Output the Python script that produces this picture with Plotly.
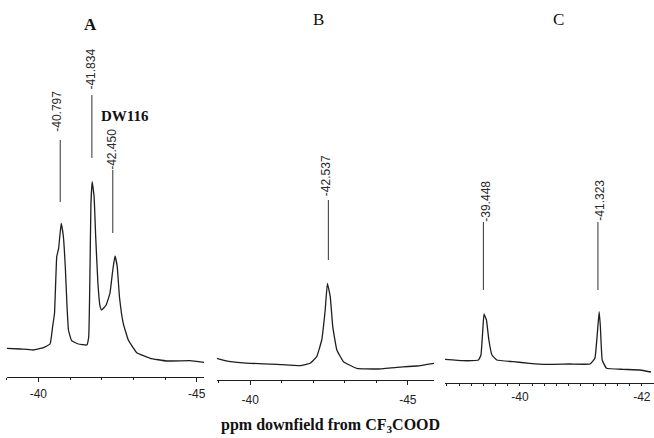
import plotly.graph_objects as go

# ---------------- data ----------------
# Spectrum A (ppm, relative intensity)
a_ppm = [-39.00, -39.42, -39.84, -40.16, -40.37, -40.45, -40.51, -40.58, -40.64, -40.72,
         -40.79, -40.85, -40.90, -40.95, -41.05, -41.26, -41.53, -41.59, -41.63, -41.66,
         -41.70, -41.76, -41.81, -41.88, -41.95, -42.00, -42.14, -42.26, -42.35, -42.42,
         -42.49, -42.56, -42.68, -42.84, -43.11, -43.53, -44.05, -44.79, -45.23]
a_int = [28.4, 27.7, 26.7, 29.0, 32.7, 50.0, 63.4, 120.0, 128.4, 153.4,
         140.0, 110.0, 73.4, 46.7, 36.0, 32.7, 31.7, 40.0, 106.7, 173.4,
         195.0, 180.0, 140.0, 93.4, 70.0, 66.7, 71.7, 83.4, 106.7, 120.7,
         110.0, 80.0, 53.4, 36.7, 24.0, 18.4, 15.7, 16.0, 14.4]

# Spectrum B
b_ppm = [-38.94, -39.37, -40.00, -40.85, -41.59, -41.90, -42.11, -42.27, -42.38, -42.45,
         -42.54, -42.62, -42.75, -42.96, -43.38, -44.02, -44.65, -45.29, -45.83]
b_int = [21.7, 18.3, 16.7, 15.7, 14.3, 16.7, 23.3, 40.0, 70.0, 96.7,
         83.3, 53.3, 30.0, 18.3, 11.7, 11.0, 12.7, 14.0, 16.7]

# Spectrum C
c_ppm = [-38.77, -39.07, -39.32, -39.36, -39.39, -39.41, -39.45, -39.49, -39.54, -39.62,
         -39.89, -40.16, -40.44, -40.82, -41.15, -41.23, -41.27, -41.30, -41.32, -41.35,
         -41.42, -41.69, -41.97, -42.15]
c_int = [23.7, 22.3, 23.0, 28.0, 53.0, 69.0, 63.0, 43.0, 28.0, 23.0,
         21.3, 19.7, 18.7, 19.0, 19.0, 24.7, 49.7, 71.3, 56.3, 23.0,
         14.7, 13.7, 13.0, 11.0]

# Peak labels: text, line position (ppm), line bottom / top, text position
a_labels = ["-40.797", "-41.834", "-42.450"]
a_line_x = [-40.69, -41.69, -42.35]
a_line_lo = [174.7, 218.7, 143.7]
a_line_hi = [236.7, 281.7, 206.7]
a_text_x = [-40.59, -41.65, -42.32]
a_text_y = [265.0, 307.7, 227.7]

b_labels = ["-42.537"]
b_line_x = [-42.48]
b_line_lo = [120.0]
b_line_hi = [180.0]
b_text_x = [-42.41]
b_text_y = [204.0]

c_labels = ["-39.448", "-41.323"]
c_line_x = [-39.40, -41.28]
c_line_lo = [93.0, 93.0]
c_line_hi = [161.0, 161.0]
c_text_x = [-39.43, -41.30]
c_text_y = [181.5, 182.5]

panel_titles = ["A", "B", "C"]
x_ticks_ab = [-40, -45]
x_ticks_c = [-40, -42]

# ---------------- figure ----------------
W, H = 654, 438
LINE = "#1e1e1e"
fig = go.Figure()

panels = [
    ("x", "y", a_ppm, a_int, a_labels, a_line_x, a_line_lo, a_line_hi, a_text_x, a_text_y),
    ("x2", "y2", b_ppm, b_int, b_labels, b_line_x, b_line_lo, b_line_hi, b_text_x, b_text_y),
    ("x3", "y3", c_ppm, c_int, c_labels, c_line_x, c_line_lo, c_line_hi, c_text_x, c_text_y),
]

for xa, ya, px, py, labs, lx, llo, lhi, tx, ty in panels:
    fig.add_trace(go.Scatter(x=px, y=py, xaxis=xa, yaxis=ya, mode="lines",
                             line=dict(color=LINE, width=1.3, shape="spline", smoothing=0.3),
                             hoverinfo="skip", showlegend=False))
    xs, ys = [], []
    for i in range(len(lx)):
        xs += [lx[i], lx[i], None]
        ys += [llo[i], lhi[i], None]
    fig.add_trace(go.Scatter(x=xs, y=ys, xaxis=xa, yaxis=ya, mode="lines",
                             line=dict(color="#333333", width=1), hoverinfo="skip",
                             showlegend=False))
    for i in range(len(labs)):
        fig.add_annotation(x=tx[i], y=ty[i], xref=xa, yref=ya, text=labs[i],
                           textangle=-90, showarrow=False,
                           xanchor="center", yanchor="middle",
                           font=dict(family="Liberation Sans", size=12, color="#2a2a2a"))

# DW116 label in panel A
fig.add_annotation(x=-42.74, y=260.7, xref="x", yref="y", text="<b>DW116</b>",
                   showarrow=False, xanchor="center", yanchor="middle",
                   font=dict(family="Liberation Serif", size=15, color="#111111"))

# panel titles
title_pos = [(90, 24, True), (318, 19, False), (558, 19, False)]
for t, (tx_, ty_, bold) in zip(panel_titles, title_pos):
    fig.add_annotation(x=tx_ / W, y=1 - ty_ / H, xref="paper", yref="paper",
                       text=("<b>%s</b>" % t) if bold else t, showarrow=False,
                       xanchor="center", yanchor="middle",
                       font=dict(family="Liberation Serif", size=17, color="#111111"))

# common x title
fig.add_annotation(x=330 / W, y=1 - 425 / H, xref="paper", yref="paper",
                   text="<b>ppm downfield from CF<sub>3</sub>COOD</b>", showarrow=False,
                   xanchor="center", yanchor="middle",
                   font=dict(family="Liberation Serif", size=16, color="#111111"))

def xaxis(domain, rng, ticks, minor_dt, anchor, standoff, tlen):
    return dict(domain=domain, range=rng, anchor=anchor, automargin=False,
                showline=True, linecolor=LINE, linewidth=1.2,
                ticks="outside", ticklen=tlen, tickwidth=1, tickcolor=LINE,
                tickmode="array", tickvals=ticks, ticktext=[str(t) for t in ticks],
                minor=dict(tickmode="linear", tick0=-40, dtick=minor_dt,
                           ticks="outside", ticklen=2, tickcolor=LINE),
                ticklabelstandoff=standoff,
                tickfont=dict(family="Liberation Sans", size=12, color="#222222"),
                showgrid=False, zeroline=False, fixedrange=True)

def yaxis(axis_px, anchor):
    return dict(domain=[(H - axis_px) / H, 1.0], range=[0, axis_px], anchor=anchor,
                automargin=False,
                visible=False, showgrid=False, zeroline=False, fixedrange=True)

fig.update_layout(
    width=W, height=H,
    margin=dict(l=0, r=0, t=0, b=0, autoexpand=False),
    paper_bgcolor="white", plot_bgcolor="white",
    showlegend=False,
    xaxis=xaxis([6.7 / W, 204 / W], [-39.0, -45.23], x_ticks_ab, 1, "y", 2, 4),
    xaxis2=xaxis([216.7 / W, 434 / W], [-38.94, -45.83], x_ticks_ab, 1, "y2", 4, 4),
    xaxis3=xaxis([445 / W, 1.0], [-38.77, -42.20], x_ticks_c, 0.2, "y3", 0, 2),
    yaxis=yaxis(376.7, "x"),
    yaxis2=yaxis(380.0, "x2"),
    yaxis3=yaxis(383.0, "x3"),
)

fig.write_html("out.html", config={"displayModeBar": False},
               post_script="document.body.style.margin='0px';")
